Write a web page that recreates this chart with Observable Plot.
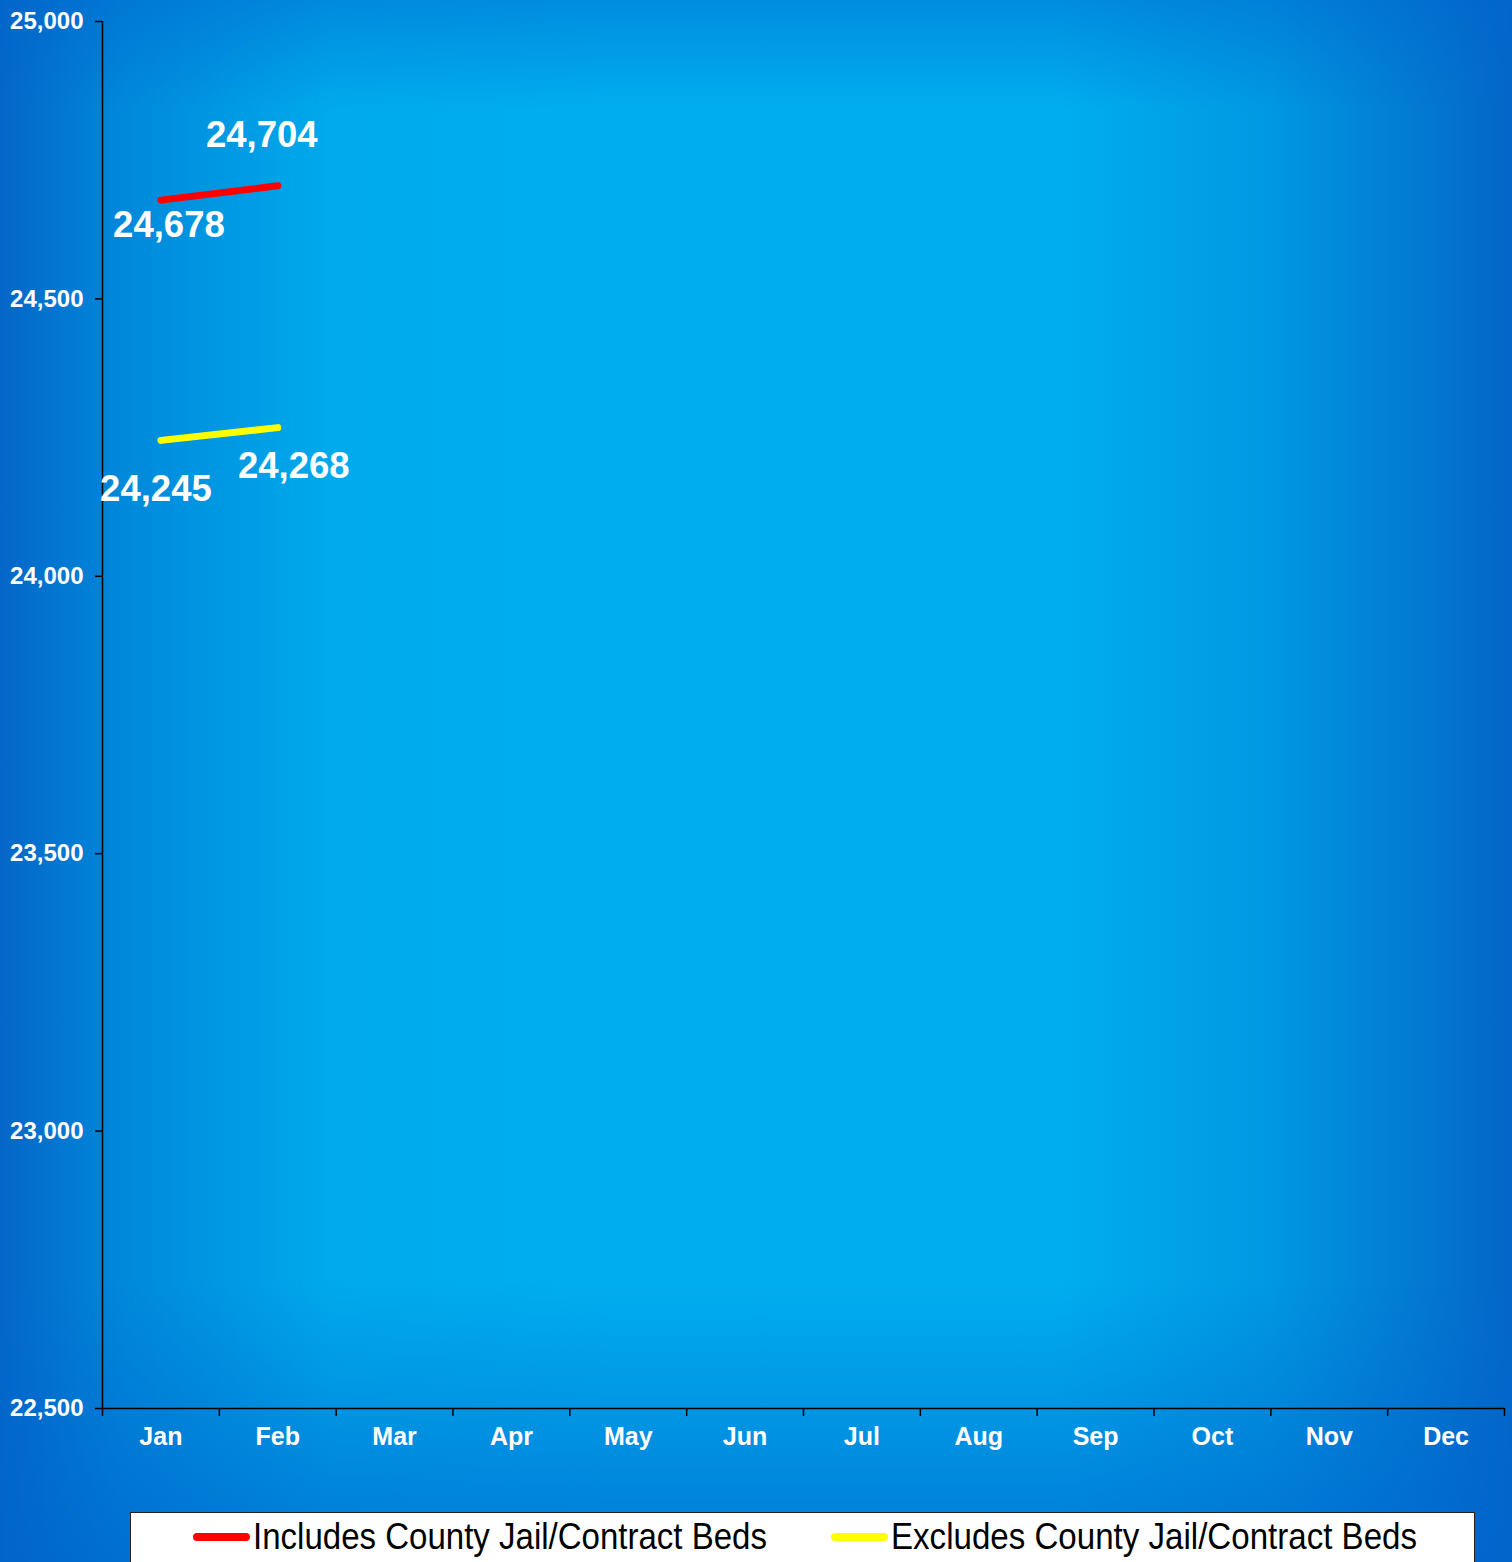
<!DOCTYPE html>
<html>
<head>
<meta charset="utf-8">
<script src="https://cdn.jsdelivr.net/npm/d3@7"></script>
<script src="https://cdn.jsdelivr.net/npm/@observablehq/plot@0.6"></script>
<style>
  html, body { margin: 0; padding: 0; }
  body {
    width: 1512px; height: 1562px; overflow: hidden; position: relative;
    font-family: "Liberation Sans", Arial, sans-serif;
    background:
      linear-gradient(to bottom, rgba(0,100,205,0.45) 0%, rgba(0,100,205,0) 7%, rgba(0,100,205,0) 82%, rgba(0,100,205,0.7) 100%),
      linear-gradient(to right, #0466c8 0%, #0088db 8%, #00aaec 22%, #00aeef 40%, #00aeef 70%, #0098e2 84%, #0466c8 100%);
  }
  #chart svg { display: block; background: transparent; }
  #legend {
    position: absolute; left: 130px; top: 1512px; width: 1345px; height: 70px;
    background: #fff; border: 1px solid #222; box-sizing: border-box;
  }
  .item { position: absolute; top: 2px; display: flex; align-items: center; height: 44px; }
  .sw { width: 57px; height: 8px; border-radius: 4px; flex: none; }
  .lbl { font-family: "Liberation Sans Narrow", "Liberation Sans", Arial, sans-serif; font-size: 36px; color: #000; white-space: nowrap; display: inline-block; transform-origin: left center; margin-left: 3px; }
</style>
</head>
<body>
<div id="chart"></div>
<div id="legend"></div>
<script>
const months = ["Jan","Feb","Mar","Apr","May","Jun","Jul","Aug","Sep","Oct","Nov","Dec"];
const includesValues = [24678, 24704];
const excludesValues = [24245, 24268];
const yTicks = [22500, 23000, 23500, 24000, 24500, 25000];
const seriesNames = ["Includes County Jail/Contract Beds", "Excludes County Jail/Contract Beds"];
const seriesColors = ["#ff0000", "#ffff00"];

const inc = includesValues.map((v, i) => ({x: i + 0.5, y: v}));
const exc = excludesValues.map((v, i) => ({x: i + 0.5, y: v}));
const fmt = d3.format(",");
const labelStyle = {fill: "white", fontSize: 36.5, fontWeight: "bold", lineAnchor: "middle", text: d => fmt(d.y)};

const chart = Plot.plot({
  width: 1512,
  height: 1480,
  marginLeft: 102,
  marginRight: 8,
  marginTop: 21,
  marginBottom: 72,
  style: {fontFamily: "'Liberation Sans', Arial, sans-serif", background: "transparent", overflow: "visible"},
  x: {type: "linear", domain: [0, 12], axis: null},
  y: {domain: [22500, 25000], axis: null},
  marks: [
    Plot.ruleX([0], {y1: 22500, y2: 25000, stroke: "black", strokeWidth: 1.5}),
    Plot.ruleY([22500], {x1: 0, x2: 12, stroke: "black", strokeWidth: 1.5}),
    Plot.axisY(yTicks, {anchor: "left", tickSize: 7, tickPadding: 12, tickFormat: fmt, stroke: "black", strokeWidth: 1.5, fill: "white", fontSize: 24, fontWeight: "bold", label: null}),
    Plot.axisX(d3.range(0, 13), {anchor: "bottom", tickSize: 8, stroke: "black", strokeWidth: 1.5, fill: "none", label: null}),
    Plot.text(months, {x: (d, i) => i + 0.5, y: () => 22500, text: d => d, dy: 28, lineAnchor: "middle", fill: "white", fontSize: 25, fontWeight: "bold"}),
    Plot.line(inc, {x: "x", y: "y", stroke: seriesColors[0], strokeWidth: 7, strokeLinecap: "round"}),
    Plot.line(exc, {x: "x", y: "y", stroke: seriesColors[1], strokeWidth: 7, strokeLinecap: "round"}),
    Plot.text([inc[0]], {x: "x", y: "y", dx: 8, dy: 25, ...labelStyle}),
    Plot.text([inc[1]], {x: "x", y: "y", dx: -16, dy: -50, ...labelStyle}),
    Plot.text([exc[0]], {x: "x", y: "y", dx: -5, dy: 49, ...labelStyle}),
    Plot.text([exc[1]], {x: "x", y: "y", dx: 16, dy: 39, ...labelStyle})
  ]
});
document.getElementById("chart").appendChild(chart);

// legend
const legend = document.getElementById("legend");
const lefts = [62, 700];
const targetWidths = [514, 526];
seriesNames.forEach((name, i) => {
  const item = document.createElement("div");
  item.className = "item";
  item.style.left = lefts[i] + "px";
  const sw = document.createElement("div");
  sw.className = "sw";
  sw.style.background = seriesColors[i];
  const lbl = document.createElement("span");
  lbl.className = "lbl";
  lbl.textContent = name;
  item.appendChild(sw);
  item.appendChild(lbl);
  legend.appendChild(item);
  const w = lbl.getBoundingClientRect().width;
  if (w > 0) lbl.style.transform = `scaleX(${targetWidths[i] / w})`;
});
</script>
</body>
</html>
